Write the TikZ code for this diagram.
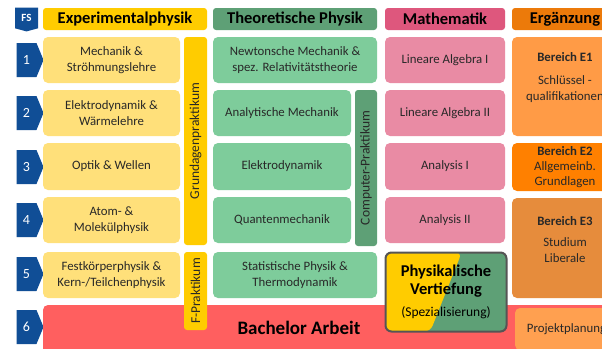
\documentclass[tikz,border=0pt]{standalone}
\usepackage{fontspec}
\setmainfont{Carlito}
\usepackage{tikz}
\usetikzlibrary{shapes.symbols, positioning, calc}
\definecolor{fsblue}{RGB}{16,78,150}
\definecolor{txtdark}{RGB}{40,40,40}
\definecolor{hdryellow}{RGB}{255,204,0}
\definecolor{boxyellow}{RGB}{255,224,122}
\definecolor{hdrgreen}{RGB}{94,160,118}
\definecolor{boxgreen}{RGB}{126,204,155}
\definecolor{hdrpink}{RGB}{222,87,125}
\definecolor{boxpink}{RGB}{233,139,164}
\definecolor{hdrorange}{RGB}{236,122,10}
\definecolor{ergone}{RGB}{255,155,70}
\definecolor{ergtwo}{RGB}{255,128,0}
\definecolor{ergthree}{RGB}{230,140,60}
\definecolor{ergproj}{RGB}{255,160,80}
\definecolor{bared}{RGB}{255,95,95}
\definecolor{vgray}{RGB}{85,85,85}
\newcommand{\bigbf}{\fontsize{16.5}{20}\selectfont\bfseries}
\tikzset{
  hdr/.style={rectangle, rounded corners=3pt, inner sep=0pt,
    minimum height=22pt, font=\fontsize{16.5}{18}\selectfont\bfseries, text=black},
  cell/.style={rectangle, rounded corners=5pt, inner sep=0pt,
    minimum height=46pt, align=center, font=\fontsize{12.8}{16}\selectfont, text=txtdark},
  vbar/.style={rectangle, rounded corners=3pt, rotate=90, inner sep=0pt,
    minimum height=23pt, font=\fontsize{13.5}{16}\selectfont, text=txtdark},
  badge/.style={signal, signal to=east, signal pointer angle=135, fill=fsblue,
    text=white, inner sep=0pt, minimum width=27pt, minimum height=34pt,
    font=\fontsize{14}{16}\selectfont},
  ergbox/.style={cell, minimum width=106pt},
  splitfill/.style={path picture={
    \fill[hdryellow] (path picture bounding box.north west)
      -- ($(path picture bounding box.north west)!0.63!(path picture bounding box.north east)$)
      -- ($(path picture bounding box.south west)!0.37!(path picture bounding box.south east)$)
      -- (path picture bounding box.south west) -- cycle;
  }}
}

\begin{document}
\begin{tikzpicture}[x=1pt, y=-1pt]
  \clip (0,0) rectangle (602,348);
  \fill[white] (0,0) rectangle (602,348);
  % Kopfzeile
  \node[signal, signal to=south, signal pointer angle=150, fill=fsblue, text=white,
    inner sep=0pt, minimum width=23pt, minimum height=22pt,
    font=\fontsize{11}{12}\selectfont\bfseries] (fs) at (26.5,18) {FS};
  \node[hdr, fill=hdryellow, minimum width=164pt] (hexp) at (125,19) {Experimentalphysik};
  \node[hdr, fill=hdrgreen, minimum width=164pt] (htheo) at (295,19) {Theoretische Physik};
  \node[hdr, fill=hdrpink, minimum width=120pt] (hmath) at (445,19) {Mathematik};
  \node[hdr, fill=hdrorange, minimum width=106pt] (herg) at (565,19) {Ergänzung};
  % Semester
  \foreach \n/\y in {1/60, 2/113, 3/167, 4/220, 5/274, 6/327}
    \node[badge] (fs\n) at (26.5,\y) {\n};
  % Bachelor Arbeit
  \node[rectangle, rounded corners=5pt, fill=bared, minimum width=577pt,
    minimum height=60pt, inner sep=0pt] (ba) at (331.5,335) {};
  \node[font=\fontsize{19}{21}\selectfont\bfseries, text=black] (batext) at (299,328) {Bachelor Arbeit};
  % Experimentalphysik
  \node[cell, fill=boxyellow, minimum width=137pt] (ex1) at (111.5,60) {Mechanik \&\\Ströhmungslehre};
  \node[cell, fill=boxyellow, minimum width=137pt] (ex2) at (111.5,113) {Elektrodynamik \&\\Wärmelehre};
  \node[cell, fill=boxyellow, minimum width=137pt, minimum height=47pt] (ex3) at (111.5,166.5) {Optik \& Wellen};
  \node[cell, fill=boxyellow, minimum width=137pt] (ex4) at (111.5,220) {Atom- \&\\Molekülphysik};
  \node[cell, fill=boxyellow, minimum width=137pt] (ex5) at (111.5,275) {Festkörperphysik \&\\Kern-/Teilchenphysik};
  \node[vbar, fill=hdryellow, minimum width=208pt] (gp) at (195.5,141) {Grundagenpraktikum};
  \node[vbar, fill=hdryellow, minimum width=78pt] (fp) at (195.5,291) {F-Praktikum};
  % Theoretische Physik
  \node[cell, fill=boxgreen, minimum width=164pt] (th1) at (295,60) {Newtonsche Mechanik \&\\spez. Relativitätstheorie};
  \node[cell, fill=boxgreen, minimum width=138pt] (th2) at (282,113) {Analytische Mechanik};
  \node[cell, fill=boxgreen, minimum width=138pt, minimum height=47pt] (th3) at (282,166.5) {Elektrodynamik};
  \node[cell, fill=boxgreen, minimum width=138pt] (th4) at (282,220) {Quantenmechanik};
  \node[cell, fill=boxgreen, minimum width=164pt] (th5) at (295,275) {Statistische Physik \&\\Thermodynamik};
  \node[vbar, fill=hdrgreen, minimum width=156pt, minimum height=22pt] (cp) at (366,168) {Computer-Praktikum};
  % Mathematik
  \node[cell, fill=boxpink, minimum width=120pt] (ma1) at (445,60) {Lineare Algebra I};
  \node[cell, fill=boxpink, minimum width=120pt] (ma2) at (445,113) {Lineare Algebra II};
  \node[cell, fill=boxpink, minimum width=120pt, minimum height=47pt] (ma3) at (445,166.5) {Analysis I};
  \node[cell, fill=boxpink, minimum width=120pt] (ma4) at (445,220) {Analysis II};
  \node[cell, rounded corners=6pt, draw=vgray, line width=2pt, fill=hdrgreen, splitfill,
    minimum width=121pt, minimum height=79pt, text=black,
    font=\fontsize{13.5}{16}\selectfont] (vert) at (446,292)
    {\bigbf Physikalische\\[2pt]\bigbf Vertiefung\\[6pt](Spezialisierung)};
  % Ergänzung
  \node[ergbox, fill=ergone, minimum height=99pt] (e1) at (565,86.5)
    {\textbf{Bereich E1}\\[7pt]Schlüssel -\\qualifikationen\\[4pt]};
  \node[ergbox, fill=ergtwo, minimum height=48pt, font=\fontsize{12.8}{15}\selectfont] (e2) at (565,167)
    {\textbf{Bereich E2}\\Allgemeinb.\\Grundlagen};
  \node[ergbox, fill=ergthree, minimum height=100pt] (e3) at (565,248)
    {\textbf{Bereich E3}\\[5pt]Studium\\Liberale\\[1pt]};
  \node[ergbox, fill=ergproj, minimum width=103pt, minimum height=42pt] (pp) at (566.5,329) {Projektplanung};
\end{tikzpicture}
\end{document}
